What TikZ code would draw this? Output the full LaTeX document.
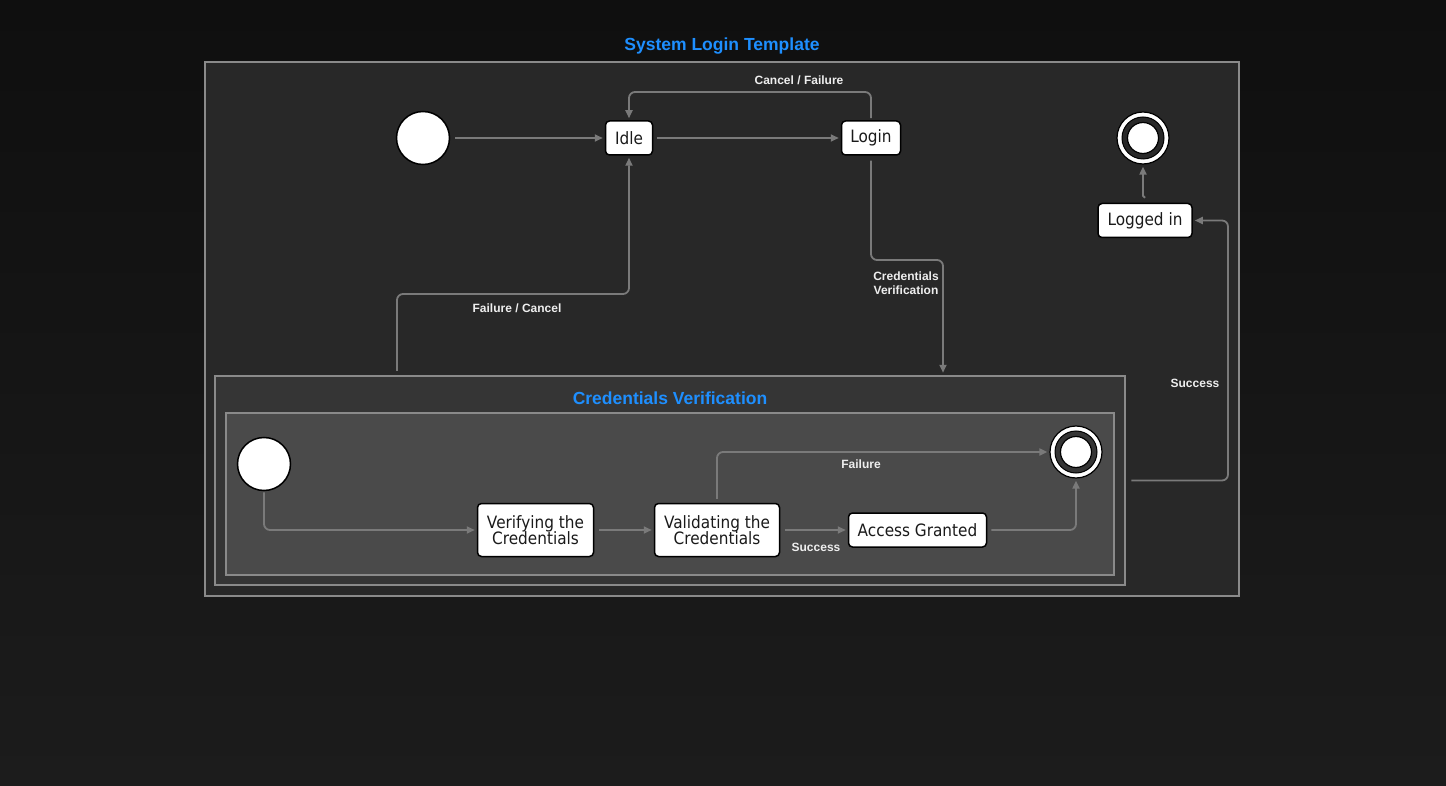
\documentclass[tikz,border=0pt]{standalone}
\usepackage{fontspec}
\usetikzlibrary{arrows.meta,calc}
\newfontfamily\lblfont{Liberation Sans}
\newfontfamily\stfont{DejaVu Sans}[FakeStretch=0.9]
\definecolor{bgtop}{HTML}{0F0F0F}
\definecolor{bgbot}{HTML}{1C1C1C}
\definecolor{framebg}{HTML}{282828}
\definecolor{compbg}{HTML}{353535}
\definecolor{innerbg}{HTML}{4A4A4A}
\definecolor{framec}{HTML}{8A8A8A}
\definecolor{edgec}{HTML}{7A7A7A}
\definecolor{titleblue}{HTML}{1E8FFF}
\definecolor{labelc}{HTML}{EEEEEE}
\definecolor{statetext}{HTML}{1A1A1A}
\tikzset{
  frame/.style={draw=framec, line width=2.5pt, fill=framebg, rectangle, inner sep=0pt},
  stateb/.style={draw=black, line width=1.5pt, fill=white, rounded corners=4pt,
     font=\stfont\fontsize{17}{16.5}\selectfont, text=statetext, align=center, inner sep=0pt,
     minimum height=34pt},
  initst/.style={circle, draw=black, line width=1.5pt, fill=white, minimum size=53pt, inner sep=0pt},
  finalst/.style={circle, draw=black, line width=1.2pt, fill=white, minimum size=52pt, inner sep=0pt},
  edge/.style={draw=edgec, line width=1.8pt, rounded corners=6pt, shorten >=2pt,
     -{Triangle[length=8pt,width=7pt]}},
  elabel/.style={font=\lblfont\bfseries\fontsize{12}{14}\selectfont, text=labelc, align=center, inner sep=0pt},
  ttl/.style={font=\lblfont\bfseries\fontsize{17.5}{20}\selectfont, text=titleblue, inner sep=0pt}
}
\begin{document}
\begin{tikzpicture}[x=1pt,y=-1pt]
\useasboundingbox (0,0) rectangle (1446,786);
\shade[top color=bgtop, bottom color=bgbot] (0,0) rectangle (1446,786);
% outer frame
\node[frame, minimum width=1034pt, minimum height=534pt] (sys) at (722,329) {};
\node[ttl] (systitle) at (722,46.5) {System Login Template};
% composite
\node[frame, fill=compbg, minimum width=910pt, minimum height=209pt] (cv) at (670,480.5) {};
\node[ttl] (cvtitle) at (670,398) {Credentials Verification};
\node[frame, fill=innerbg, minimum width=888pt, minimum height=162pt] (cvin) at (670,494) {};
% top-level states
\node[initst] (init) at (423,138) {};
\node[stateb, minimum width=47pt] (idle) at (629,138) {Idle};
\node[stateb, minimum width=59pt] (login) at (871,138) {Login};
\node[stateb, minimum width=94pt] (logged) at (1145,220.5) {Logged in};
\node[finalst] (fin) at (1143,138) {};
\fill[framebg, draw=black, line width=1pt] (fin.center) circle (21pt);
\fill[white, draw=black, line width=1.2pt] (fin.center) circle (15.5pt);
% inner states
\node[initst] (iinit) at (264,464) {};
\node[stateb, minimum width=116pt, minimum height=53pt] (verif) at (535.5,530) {Verifying the\\Credentials};
\node[stateb, minimum width=125pt, minimum height=53pt] (valid) at (717,530) {Validating the\\Credentials};
\node[stateb, minimum width=138pt] (access) at (917.5,530) {Access Granted};
\node[finalst] (ifin) at (1076,452) {};
\fill[compbg, draw=black, line width=1pt] (ifin.center) circle (21pt);
\fill[white, draw=black, line width=1.2pt] (ifin.center) circle (15.5pt);
% helper coordinates
\coordinate (cfTop) at (871,92);
\coordinate (cvBend) at (943,260);
\coordinate (fcBend) at (397,294);
\coordinate (sBend) at (1228,480.5);
% top-level edges
\draw[edge, shorten <=5pt] (init.east) -- (idle.west);
\draw[edge, shorten <=4pt] (idle.east) -- (login.west);
\draw[edge, shorten <=2pt] (login.north) -- (cfTop) -| (idle.north);
\node[elabel] (lcf) at (799,80.5) {Cancel / Failure};
\draw[edge, shorten <=5pt] (login.south) |- (cvBend) -- (cvBend |- cv.north);
\node[elabel] (lcv) at (906,283) {Credentials\\[0.5pt]Verification};
\draw[edge, shorten <=4pt] (cv.north -| fcBend) -- (fcBend) -| (idle.south);
\node[elabel] (lfc) at (517,308) {Failure / Cancel};
\draw[edge, shorten <=5pt] (cv.east) -- (sBend) |- (logged.east);
\node[elabel] (ls) at (1195,383) {Success};
\draw[edge, rounded corners=1pt, shorten <=5pt] (logged.north) -- ++(0,-6) -| (fin.south);
% inner edges
\draw[edge, shorten <=1pt] (iinit.south) |- (verif.west);
\draw[edge, shorten <=5pt] (verif) -- (valid);
\draw[edge, shorten <=5pt] (valid) -- (access);
\node[elabel] (lsucc) at (816,547) {Success};
\draw[edge, shorten <=4pt] (access.east) -| (ifin.south);
\draw[edge, shorten <=4pt] (valid.north) |- (ifin.west);
\node[elabel] (lfail) at (861,464) {Failure};
\end{tikzpicture}
\end{document}
